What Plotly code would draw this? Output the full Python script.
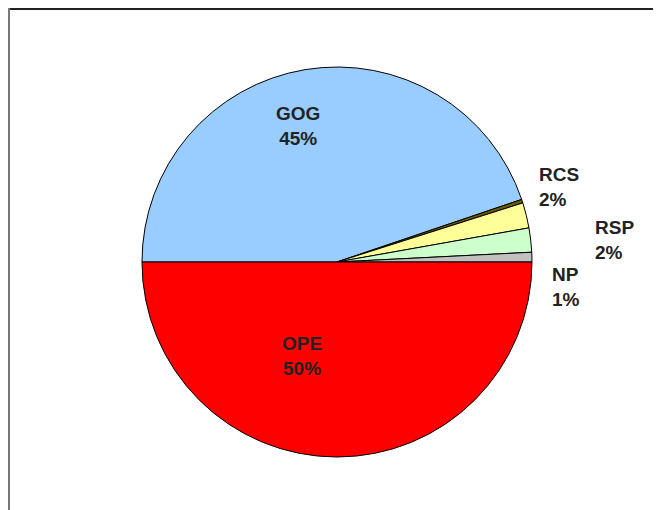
import plotly.graph_objects as go

labels = ["GOG", "X", "RCS", "RSP", "NP", "OPE"]
values = [44.8, 0.3, 2.1, 2.0, 0.8, 50.0]
colors = ["#99CCFF", "#6B5A00", "#FFFF99", "#CCFFCC", "#C0C0C0", "#FF0000"]
shown_pct = ["45%", "", "2%", "2%", "1%", "50%"]

# label placement (paper coords) for the labelled slices
label_pos = {
    "GOG": (0.4387, 0.7686, "center"),
    "OPE": (0.4448, 0.3176, "center"),
    "RCS": (0.8003, 0.6490, "left"),
    "RSP": (0.8850, 0.5451, "left"),
    "NP": (0.8200, 0.4529, "left"),
}

fig = go.Figure(go.Pie(
    labels=labels,
    values=values,
    textinfo="none",
    marker=dict(colors=colors, line=dict(color="#000000", width=1)),
    sort=False,
    direction="clockwise",
    rotation=270,
    domain=dict(x=[0.2027, 0.7927], y=[0.1196, 0.8843]),
    showlegend=False,
    hoverinfo="label+percent",
))

annotations = []
for name, pct in zip(labels, shown_pct):
    if name not in label_pos:
        continue
    x, y, anchor = label_pos[name]
    annotations.append(dict(
        x=x, y=y, xref="paper", yref="paper",
        text=f"{name}<br>{pct}", showarrow=False,
        xanchor=anchor, yanchor="middle", align=anchor,
        font=dict(family="Liberation Sans", size=19, color="#222222", weight="bold"),
    ))

fig.update_layout(
    width=661, height=510,
    margin=dict(l=0, r=0, t=0, b=0),
    paper_bgcolor="white",
    annotations=annotations,
    shapes=[
        dict(type="line", xref="paper", yref="paper", x0=0, x1=1, y0=1 - 1/510, y1=1 - 1/510,
             line=dict(color="#222222", width=2)),
        dict(type="line", xref="paper", yref="paper", x0=1/661, x1=1/661, y0=1, y1=0,
             line=dict(color="#777777", width=2)),
    ],
)

fig.write_html("out.html")
